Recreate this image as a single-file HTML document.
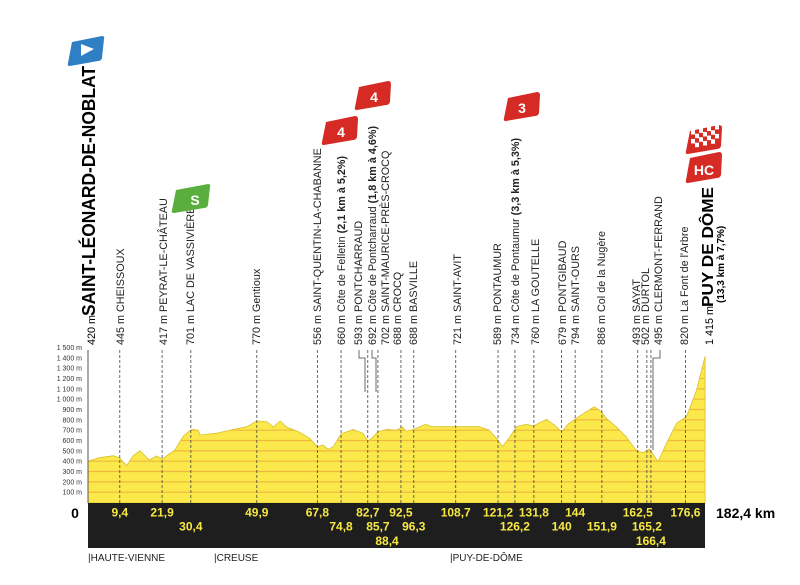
<!DOCTYPE html>
<html><head><meta charset="utf-8"><style>
html,body{margin:0;padding:0;background:#fff;}
svg{display:block;font-family:"Liberation Sans",sans-serif;}
</style></head><body>
<svg id="s" width="800" height="585" viewBox="0 0 800 585" xmlns="http://www.w3.org/2000/svg">
<defs><clipPath id="pc"><path id="clipPath"/></clipPath></defs>
<g id="axis" font-size="7" fill="#333" text-anchor="end"></g>
<path id="prof" fill="#fbe84a" stroke="#d9c02a" stroke-width="0.8"/>
<g id="stripes" clip-path="url(#pc)"></g>
<line x1="88" y1="350" x2="88" y2="503" stroke="#555" stroke-width="1"/>
<g id="dash" stroke="#444" stroke-width="0.8" stroke-dasharray="3,2" fill="none"></g>
<polyline points="359,350 359,358 365,358 365,392" stroke="#444" stroke-width="0.8" fill="none"/>
<polyline points="372,350 372,358 376,358 376,392" stroke="#444" stroke-width="0.8" fill="none"/>
<polyline points="660,350 660,358 653,358 653,450" stroke="#444" stroke-width="0.8" fill="none"/>
<rect x="88" y="503" width="617" height="45" fill="#1e1e1e"/>
<g id="km" font-size="12" font-weight="bold" fill="#f7e843" text-anchor="middle"></g>
<text x="75" y="518" font-size="14" font-weight="bold" text-anchor="middle">0</text>
<text x="716" y="518" font-size="14" font-weight="bold">182,4 km</text>
<g font-size="10" fill="#222">
<text x="88" y="561">|HAUTE-VIENNE</text>
<text x="214" y="561">|CREUSE</text>
<text x="450" y="561">|PUY-DE-DÔME</text>
</g>
<g id="labels" font-size="10.8" fill="#222"></g>
<text transform="translate(95,316) rotate(-90)" font-size="18" font-weight="bold" textLength="250" lengthAdjust="spacingAndGlyphs">SAINT-LÉONARD-DE-NOBLAT</text>
<text transform="translate(95,345) rotate(-90)" font-size="10.8">420 m</text>
<text transform="translate(713,345) rotate(-90)" font-size="10.8">1 415 m</text>
<text transform="translate(713,307) rotate(-90)" font-size="16" font-weight="bold" textLength="120" lengthAdjust="spacingAndGlyphs">PUY DE DÔME</text>
<text transform="translate(724,303) rotate(-90)" font-size="10" font-weight="bold">(13,3 km à 7,7%)</text>
<!-- badges -->
<path d="M72,42 L102,36 Q105,36 104,39 L102,58 Q101,61 98,61 L70,66 Q67,66 68,63 Z" fill="#2f7fc4"/>
<polygon points="81,44 94,49 81,56" fill="#fff"/>
<path d="M176,190 L208,184 Q211,184 210,187 L208,205 Q207,208 204,208 L174,213 Q171,213 172,210 Z" fill="#5aae3e"/>
<text x="195" y="205" font-size="14" font-weight="bold" fill="#fff" text-anchor="middle">S</text>
<path d="M326,122 L355,116 Q358,116 358,119 L357,137 Q356,140 353,140 L324,145 Q321,145 322,142 Z" fill="#d62b25"/>
<text x="341" y="137" font-size="14" font-weight="bold" fill="#fff" text-anchor="middle">4</text>
<path d="M359,87 L388,81 Q391,81 391,84 L390,102 Q389,105 386,105 L357,110 Q354,110 355,107 Z" fill="#d62b25"/>
<text x="374" y="102" font-size="14" font-weight="bold" fill="#fff" text-anchor="middle">4</text>
<path d="M508,98 L537,92 Q540,92 540,95 L539,113 Q538,116 535,116 L506,121 Q503,121 504,118 Z" fill="#d62b25"/>
<text x="522" y="113" font-size="14" font-weight="bold" fill="#fff" text-anchor="middle">3</text>
<path d="M690,131 L719,125 Q722,125 722,128 L721,146 Q720,149 717,149 L688,154 Q685,154 686,151 Z" fill="#d62b25"/>
<g id="chk" fill="#fff"></g>
<path d="M690,158 L719,152 Q722,152 722,155 L721,175 Q720,178 717,178 L688,183 Q685,183 686,180 Z" fill="#d62b25"/>
<text x="704" y="175" font-size="14" font-weight="bold" fill="#fff" text-anchor="middle">HC</text>
</svg>
<script>
var X=function(k){return 88+k*3.383},Y=function(h){return 502.5-h*0.1033};
var NS="http://www.w3.org/2000/svg";
function el(t,a,p,txt){var e=document.createElementNS(NS,t);for(var k in a)e.setAttribute(k,a[k]);if(txt!=null)e.textContent=txt;document.getElementById(p).appendChild(e);return e;}
var pts=[[0,400],[3.5,434],[7.5,453],[9.4,430],[11.4,356],[13.4,453],[15.4,501],[18.1,411],[20.3,450],[21.9,420],[25.7,508],[28.2,644],[30.6,708],[32.6,700],[33.1,653],[38,670],[43,708],[47,734],[49.9,789],[52.8,783],[54.8,731],[56.8,789],[58.7,731],[62.6,679],[65.6,621],[67.8,540],[69.5,556],[71,515],[72.5,540],[74.8,663],[78.4,708],[81.3,670],[82.7,595],[84.2,631],[85.7,685],[88.4,708],[91,700],[93,731],[94,690],[96.3,708],[99.8,757],[101.8,734],[108.7,734],[115.6,734],[118.5,702],[121.2,605],[122.5,540],[124.7,637],[126.7,734],[129.6,757],[131.6,741],[135.5,805],[137.9,750],[140,685],[141.9,757],[144.3,815],[147.3,879],[149.7,927],[151.7,879],[153.2,815],[156.1,734],[159.1,637],[162,508],[164,482],[166,518],[168.5,395],[171,573],[174,767],[176.9,831],[179.9,1089],[182.4,1415]];
var d="M"+X(0)+",503";pts.forEach(function(p){d+=" L"+X(p[0]).toFixed(1)+","+Y(p[1]).toFixed(1)});d+=" L"+X(182.4)+",503 Z";
document.getElementById("prof").setAttribute("d",d);document.getElementById("clipPath").setAttribute("d",d);
for(var h=100;h<=1500;h+=100){var y=Y(h);el("line",{x1:88,x2:706,y1:y,y2:y,stroke:"#f0b840","stroke-width":1.2},"stripes");
el("text",{x:82,y:y+2.5},"axis",(h>=1000?"1 "+String(h).slice(1):h)+" m");}
var dk=[9.4,21.9,30.4,49.9,67.8,74.8,92.5,96.3,108.7,121.2,126.2,131.8,140,144,151.9,162.5,165.2,176.6,85.7,82.7,166.4];
dk.forEach(function(k){el("line",{x1:X(k),x2:X(k),y1:350,y2:503},"dash")});
var km=[[9.4,1],[21.9,1],[30.4,2],[49.9,1],[67.8,1],[74.8,2],[82.7,1],[85.7,2],[88.4,3],[92.5,1],[96.3,2],[108.7,1],[121.2,1],[126.2,2],[131.8,1],[140,2],[144,1],[151.9,2],[162.5,1],[165.2,2],[166.4,3],[176.6,1]];
km.forEach(function(p){el("text",{x:X(p[0]),y:502+p[1]*14.3},"km",String(p[0]).replace(".",","))});
var L=[[120,"445 m CHEISSOUX"],[163,"417 m PEYRAT-LE-CHÂTEAU"],[190,"701 m LAC DE VASSIVIÈRE"],[256,"770 m Gentioux"],[317,"556 m SAINT-QUENTIN-LA-CHABANNE"],[341,"660 m Côte de Felletin ","(2,1 km à 5,2%)"],[358,"593 m PONTCHARRAUD"],[372,"692 m Côte de Pontcharraud ","(1,8 km à 4,6%)"],[385,"702 m SAINT-MAURICE-PRÈS-CROCQ"],[397,"688 m CROCQ"],[413,"688 m BASVILLE"],[457,"721 m SAINT-AVIT"],[497,"589 m PONTAUMUR"],[515,"734 m Côte de Pontaumur ","(3,3 km à 5,3%)"],[535,"760 m LA GOUTELLE"],[562,"679 m PONTGIBAUD"],[575,"794 m SAINT-OURS"],[601,"886 m Col de la Nugère"],[636,"493 m SAYAT"],[645,"502 m DURTOL"],[658,"495 m CLERMONT-FERRAND"],[684,"820 m La Font de l'Arbre"]];
L.forEach(function(l){var t=el("text",{transform:"translate("+(l[0]+3.8)+",345) rotate(-90)"},"labels",l[1]);
if(l[2]){var s=document.createElementNS(NS,"tspan");s.setAttribute("font-weight","bold");s.textContent=l[2];t.appendChild(s);}});
for(var i=0;i<7;i++)for(var j=0;j<4;j++)if((i+j)%2==0)el("rect",{x:691+i*4,y:130+j*4.5-i*0.85,width:4,height:4.5},"chk");
</script>
</body></html>
